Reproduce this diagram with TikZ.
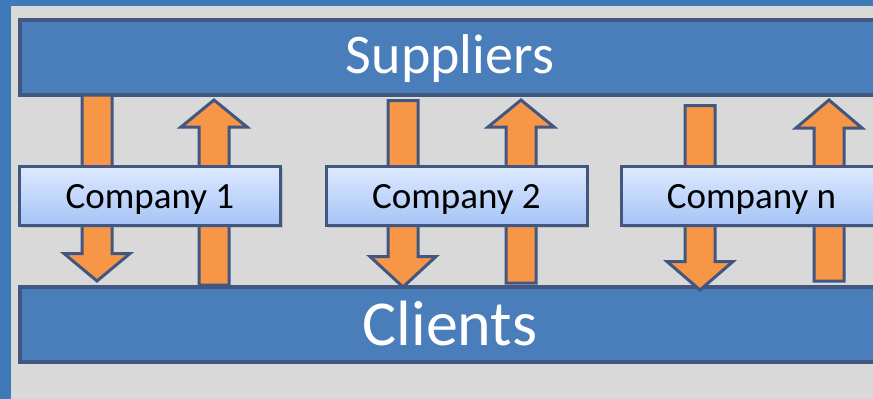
\documentclass[tikz,border=0pt]{standalone}
\usepackage{fontspec}
\setmainfont{Carlito}
\usetikzlibrary{shadows}

\definecolor{frameblue}{RGB}{62,122,184}
\definecolor{barblue}{RGB}{74,126,187}
\definecolor{edgeblue}{RGB}{65,87,128}
\definecolor{flow}{RGB}{247,150,70}
\definecolor{panel}{RGB}{217,217,217}
\definecolor{boxtop}{RGB}{221,233,255}
\definecolor{boxbot}{RGB}{166,196,246}

% block arrow: x, tail, head base, tip
\newcommand{\blockarrow}[4]{%
  \draw[flowarrow] (#1-15,#2) -- (#1+15,#2) -- (#1+15,#3) -- (#1+33,#3)
    -- (#1,#4) -- (#1-33,#3) -- (#1-15,#3) -- cycle;}

\begin{document}
\begin{tikzpicture}[x=1pt, y=-1pt,
  bar/.style={draw=edgeblue, line width=4pt, fill=barblue, text=white,
    minimum width=860pt, minimum height=75pt, inner sep=0pt, text depth=0pt},
  company/.style={draw=edgeblue, line width=3pt, top color=boxtop, bottom color=boxbot,
    minimum width=261pt, minimum height=59pt, inner sep=0pt,
    font=\fontsize{37}{40}\selectfont, text height=24pt, text depth=0pt,
    drop shadow={shadow xshift=2pt, shadow yshift=-2pt, opacity=0.3}},
  flowarrow/.style={draw=edgeblue, line width=3pt, fill=flow, line join=miter}]
  \useasboundingbox (0,0) rectangle (873,399);
  \clip (0,0) rectangle (873,399);
  \fill[frameblue] (0,0) rectangle (873,399);
  \fill[panel] (11,6) rectangle (873,399);

  \node[bar, font=\fontsize{56}{60}\selectfont, text height=31pt] (sup) at (450,57.5) {Suppliers};
  \node[bar, font=\fontsize{64}{70}\selectfont, text height=41pt] (cli) at (450,324.5) {Clients};

  \blockarrow{97}{95}{253.5}{281}
  \blockarrow{214}{285}{127}{100}
  \blockarrow{403}{100.5}{256.5}{287}
  \blockarrow{521}{283}{127}{100}
  \blockarrow{700}{105.5}{261.5}{290}
  \blockarrow{829}{281}{128}{100}

  \node[company] (c1) at (150,196) {Company 1};
  \node[company] (c2) at (456.5,196) {Company 2};
  \node[company] (cn) at (751.5,196) {Company n};
\end{tikzpicture}
\end{document}
